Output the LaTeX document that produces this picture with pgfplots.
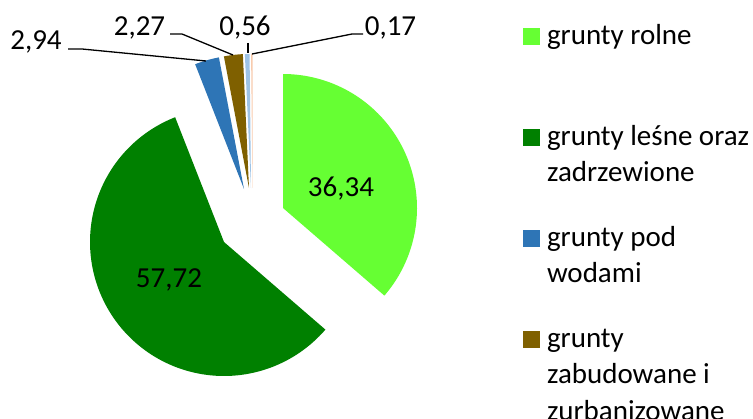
\documentclass[border=0pt]{standalone}
\usepackage{pgfplots}
\pgfplotsset{compat=1.18}
\usepackage{fontspec}
\setmainfont{Carlito}
\definecolor{c1}{HTML}{66FF33}
\definecolor{c2}{HTML}{008000}
\definecolor{c3}{HTML}{2E75B6}
\definecolor{c4}{HTML}{7F6000}
\definecolor{c5}{HTML}{9DC3E6}
\definecolor{c6}{HTML}{F8CBAD}
\newcommand\F{\fontsize{29bp}{36.5bp}\selectfont}
\newcommand\R{134}
% shares (%)
\def\va{36.34}
\def\vb{57.72}
\def\vc{2.94}
\def\vd{2.27}
\def\ve{0.56}
\def\vf{0.17}
\newcommand\LE[1]{\parbox[t]{210bp}{#1}}
\begin{document}
\begin{tikzpicture}
\path[use as bounding box, clip] (0,0) rectangle (753bp,419bp);
\pgfmathsetmacro\aa{90}
\pgfmathsetmacro\ab{\aa-3.6*\va}
\pgfmathsetmacro\ac{\ab-3.6*\vb}
\pgfmathsetmacro\ad{\ac-3.6*\vc}
\pgfmathsetmacro\ae{\ad-3.6*\vd}
\pgfmathsetmacro\af{\ae-3.6*\ve}
\pgfmathsetmacro\ag{\af-3.6*\vf}
\begin{axis}[
  at={(0,0)}, anchor=south west,
  scale only axis, width=753bp, height=419bp,
  xmin=0, xmax=753, ymin=0, ymax=419, y dir=reverse,
  hide axis,
  legend style={draw=none, fill=none, at={(axis cs:523,22)}, anchor=north west,
    inner sep=0pt, outer sep=0pt, row sep=0pt, column sep=7bp, font=\F,
    cells={anchor=north west},
    nodes={inner sep=0pt, outer sep=0pt, text height=22bp, text depth=79bp}},
  legend image code/.code={\fill[#1] (0bp,-23bp) rectangle (17bp,-6bp);},
]
\addplot[fill=c1, draw=none, domain=\ab:\aa, samples=120]
  ({283+\R*cos(x)}, {208-\R*sin(x)}) -- (axis cs:283,208) -- cycle;
\addlegendentry{\LE{grunty rolne}}
\addplot[fill=c2, draw=none, domain=\ac:\ab, samples=160]
  ({224+\R*cos(x)}, {242-\R*sin(x)}) -- (axis cs:224,242) -- cycle;
\addlegendentry{\LE{grunty leśne oraz\\zadrzewione}}
\addplot[fill=c3, draw=none, domain=\ad:\ac, samples=12]
  ({244+\R*cos(x)}, {189-\R*sin(x)}) -- (axis cs:244,189) -- cycle;
\addlegendentry{\LE{grunty pod\\wodami}}
\addplot[fill=c4, draw=none, domain=\ae:\ad, samples=12]
  ({249+\R*cos(x)}, {188-\R*sin(x)}) -- (axis cs:249,188) -- cycle;
\addlegendentry{\LE{grunty\\zabudowane i\\zurbanizowane}}
\addplot[fill=c5, draw=none, forget plot, domain=\af:\ae, samples=5]
  ({251+\R*cos(x)}, {188-\R*sin(x)}) -- (axis cs:251,188) -- cycle;
\addplot[fill=c6, draw=none, forget plot, domain=\ag:\af, samples=5]
  ({252.5+\R*cos(x)}, {188-\R*sin(x)}) -- (axis cs:252.5,188) -- cycle;
% leader lines
\addplot[black, line width=1.3bp, forget plot] coordinates {(68,49) (82,49) (206,61)};
\addplot[black, line width=1.3bp, forget plot] coordinates {(170,34) (182,34) (233,55)};
\addplot[black, line width=2.5bp, forget plot] coordinates {(248,43) (248,53)};
\addplot[black, line width=1.3bp, forget plot] coordinates {(363,34) (352,34) (252,54)};
% labels
\node[font=\F, anchor=base, inner sep=0pt] at (axis cs:36,49) {2,94};
\node[font=\F, anchor=base, inner sep=0pt] at (axis cs:139.5,35) {2,27};
\node[font=\F, anchor=base, inner sep=0pt] at (axis cs:245,35) {0,56};
\node[font=\F, anchor=base, inner sep=0pt] at (axis cs:390.5,35) {0,17};
\node[font=\F, anchor=base, inner sep=0pt] at (axis cs:341,196.7) {36,34};
\node[font=\F, anchor=base, inner sep=0pt] at (axis cs:169,287) {57,72};
\end{axis}
\end{tikzpicture}
\end{document}
